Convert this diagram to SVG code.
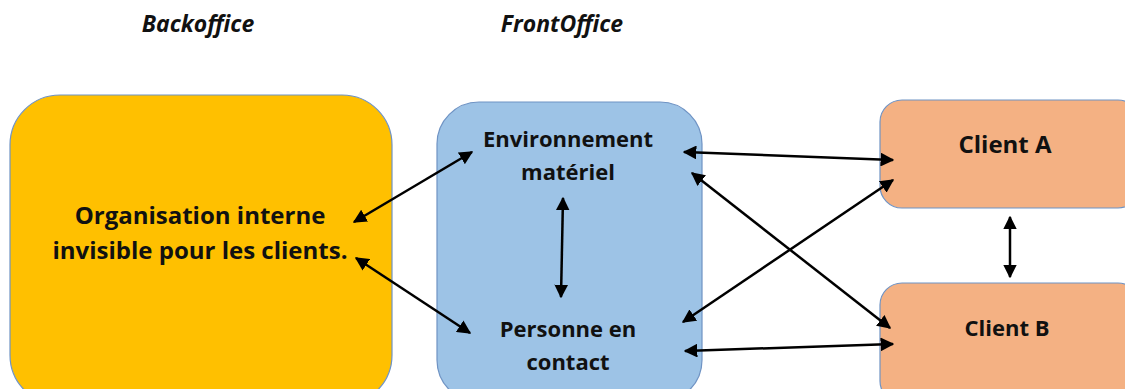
<svg xmlns="http://www.w3.org/2000/svg" width="1125" height="389" viewBox="0 0 1125 389">
<style>
.t{font-family:"Open Sans",Lato,sans-serif;font-weight:bold;fill:#111;text-anchor:middle;font-size:22px}
.big{font-size:24px}
.h{font-family:"Open Sans",Lato,sans-serif;font-weight:bold;font-style:italic;fill:#111;font-size:23px;text-anchor:middle}
.c{stroke:#000;stroke-width:2.5;fill:none;marker-start:url(#a);marker-end:url(#a)}
.box{stroke:#6f93c4;stroke-width:1.2}
</style>
<defs>
<marker id="a" viewBox="0 0 10 10" refX="9" refY="5" markerWidth="5.5" markerHeight="5.5" orient="auto-start-reverse" markerUnits="strokeWidth">
<path d="M0,0 L10,5 L0,10 Z" fill="#000"/>
</marker>
</defs>
<rect width="1125" height="389" fill="#fff"/>
<text class="h" x="198" y="32">Backoffice</text>
<text class="h" x="562" y="32">FrontOffice</text>
<g id="backoffice">
<rect class="box" x="10" y="95" width="382" height="310" rx="50" fill="#FFC000"/>
<text class="t big" x="200" y="224">Organisation interne</text>
<text class="t big" x="200" y="259">invisible pour les clients.</text>
</g>
<g id="frontoffice">
<rect class="box" x="437" y="102" width="265" height="300" rx="42" fill="#9DC3E6"/>
<text class="t" x="568" y="147">Environnement</text>
<text class="t" x="568" y="180">matériel</text>
<text class="t" x="568" y="337">Personne en</text>
<text class="t" x="568" y="370">contact</text>
</g>
<g id="clientA">
<rect class="box" x="880" y="100" width="260" height="108" rx="22" fill="#F4B183"/>
<text class="t big" x="1005" y="153">Client A</text>
</g>
<g id="clientB">
<rect class="box" x="880" y="283" width="260" height="120" rx="22" fill="#F4B183"/>
<text class="t" x="1007" y="336">Client B</text>
</g>
<g id="connectors">
<line class="c" x1="354" y1="222" x2="472" y2="152"/>
<line class="c" x1="356" y1="258" x2="470" y2="333"/>
<line class="c" x1="563" y1="198" x2="561" y2="297"/>
<line class="c" x1="684" y1="152" x2="893" y2="160"/>
<line class="c" x1="692" y1="173" x2="890" y2="328"/>
<line class="c" x1="683" y1="322" x2="893" y2="180"/>
<line class="c" x1="685" y1="351" x2="893" y2="344"/>
<line class="c" x1="1010" y1="217" x2="1010" y2="277"/>
</g>
</svg>
